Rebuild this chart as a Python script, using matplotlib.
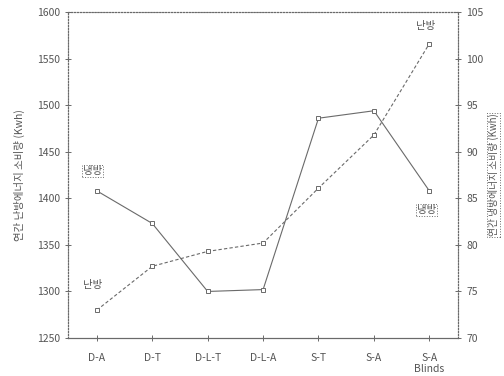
import matplotlib.pyplot as plt

plt.rcParams['font.family'] = ['Noto Sans CJK KR', 'DejaVu Sans']

cases = ['D-A', 'D-T', 'D-L-T', 'D-L-A', 'S-T', 'S-A', 'S-A\nBlinds']
heating = [1280, 1327, 1343, 1352, 1411, 1468, 1566]   # 연간 난방 (left axis)
cooling = [85.8, 82.3, 75.0, 75.2, 93.6, 94.4, 85.8]   # 연간 냉방 (right axis)

grey = '#6a6a6a'
txt = '#555555'

fig = plt.figure(figsize=(5.04, 3.76), dpi=100)
ax = fig.add_axes([0.135, 0.101, 0.774, 0.867])
ax2 = ax.twinx()

x = list(range(len(cases)))
ax.plot(x, heating, color=grey, lw=0.8, ls=(0, (3, 2)),
        marker='s', ms=3.5, mfc='white', mec=grey, mew=0.7)
ax2.plot(x, cooling, color=grey, lw=0.8, ls='-',
         marker='s', ms=3.5, mfc='white', mec=grey, mew=0.7)

ax.set_xlim(-0.52, 6.52)
ax.set_ylim(1250, 1600)
ax2.set_ylim(70, 105)
ax.set_yticks(range(1250, 1601, 50))
ax2.set_yticks(range(70, 106, 5))
ax.set_xticks(x)
ax.set_xticklabels(cases)

for a in (ax, ax2):
    for side in ('top', 'left', 'right'):
        a.spines[side].set_linestyle(':')
        a.spines[side].set_color(grey)
        a.spines[side].set_linewidth(0.8)
    a.spines['bottom'].set_linestyle((0, (4, 1)))
    a.spines['bottom'].set_color(grey)
    a.spines['bottom'].set_linewidth(0.8)
    a.tick_params(direction='inout', length=5, width=0.7, colors=grey,
                  labelcolor=txt, labelsize=7.5)
ax.tick_params(axis='x', pad=8)

ax.set_ylabel('연간 난방에너지 소비량 (Kwh)', fontsize=7.5, color=txt, labelpad=8)
ax2.set_ylabel('연간 냉방에너지 소비량 (Kwh)', fontsize=7, color=txt, labelpad=3,
               rotation=90, bbox=dict(boxstyle='square,pad=0.1', fc='white',
                                      ec=grey, ls=':', lw=0.7))

box = dict(boxstyle='square,pad=0.1', fc='white', ec=grey, ls=':', lw=0.7)
ax2.annotate('냉방', (0, cooling[0]), xytext=(-3, 14), textcoords='offset points',
             fontsize=7.5, color=txt, ha='center', va='center', bbox=box)
ax.annotate('난방', (0, heating[0]), xytext=(-3, 18), textcoords='offset points',
            fontsize=7.5, color=txt, ha='center', va='center')
ax.annotate('난방', (6, heating[6]), xytext=(-3, 13), textcoords='offset points',
            fontsize=7.5, color=txt, ha='center', va='center')
ax2.annotate('냉방', (6, cooling[6]), xytext=(-2, -14), textcoords='offset points',
             fontsize=7.5, color=txt, ha='center', va='center', bbox=box)

fig.savefig('out.png', dpi=100)
